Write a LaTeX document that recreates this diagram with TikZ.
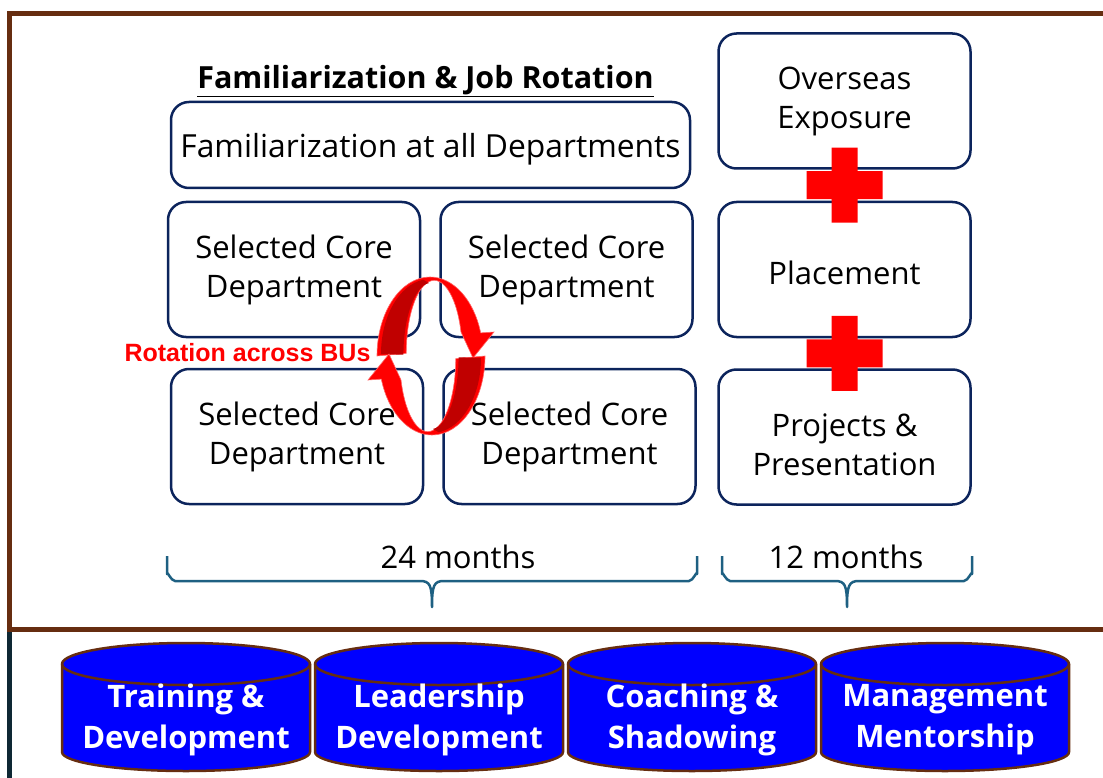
\documentclass[tikz,border=0pt]{standalone}
\usepackage{fontspec}
\setmainfont{Open Sans}
\newfontfamily\arialfont{Liberation Sans}
\usepackage{xcolor}
\definecolor{frame01}{RGB}{102,45,16}
\definecolor{frame02}{RGB}{14,40,52}
\definecolor{navy01}{RGB}{12,36,92}
\definecolor{teal01}{RGB}{30,96,130}
\definecolor{rot01}{RGB}{255,0,0}
\definecolor{rot02}{RGB}{192,0,0}
\definecolor{cyl01}{RGB}{0,0,255}
\usetikzlibrary{calc,positioning}

\begin{document}
\begin{tikzpicture}[x=1pt, y=-1pt,
    box/.style={draw=navy01, line width=2.5pt, rounded corners=18pt, align=center,
                inner sep=0pt, font=\fontsize{31}{39}\selectfont},
    core/.style={box, minimum width=252pt, minimum height=135pt},
    boxtext/.style={align=center, font=\fontsize{31}{39}\selectfont},
    brace/.style={draw=teal01, line width=2.5pt, line join=round},
    cyl/.style={draw=frame01, fill=cyl01, line width=2.5pt},
    cyltext/.style={align=center, text=white, font=\fontsize{31}{41}\selectfont\bfseries}]
    \useasboundingbox (0,0) rectangle (1103,778);
    % 外框:上、左、下三边为棕色,左下延伸为深色
    \draw[frame01, line width=5pt, line join=miter] (1103,13.5) -- (9.5,13.5) -- (9.5,629.5) -- (1103,629.5);
    \draw[frame02, line width=5pt] (9.5,632) -- (9.5,778);
    % 标题
    \node[font=\fontsize{30.5}{34}\selectfont\bfseries] (title) at (425.5,81) {\underline{Familiarization \& Job Rotation}};
    % 左侧:熟悉阶段与核心部门轮岗
    \node[box, minimum width=519pt, minimum height=86pt] (famil) at (430.5,145) {};
    \node[boxtext, font=\fontsize{31.8}{39}\selectfont] (familtxt) at ([yshift=-4pt]famil.center) {Familiarization at all Departments};
    \node[core] (coreA) at (294,269.5) {Selected Core\\Department};
    \node[core] (coreB) at (566.5,269.5) {Selected Core\\Department};
    \node[core] (coreC) at (297,436.5) {Selected Core\\Department};
    \node[core] (coreD) at (569.5,436.5) {Selected Core\\Department};
    % 右侧:海外、派驻、项目
    \node[core] (place) at (844.5,269.5) {};
    \node[boxtext] (placetxt) at ([yshift=-3pt]place.center) {Placement};
    \node[core, above=31pt of place] (abroad) {Overseas\\Exposure};
    \node[core, below=30pt of place] (proj) {};
    \node[boxtext] (projtxt) at ([yshift=-8pt]proj.center) {Projects \&\\Presentation};
    % 两个红色加号
    \coordinate (plus1) at ($(abroad.south)!0.5!(place.north)$);
    \coordinate (plus2) at ($(place.south)!0.5!(proj.north)$);
    \fill[rot01] ($(plus1)+(-13,-37.5)$) rectangle ($(plus1)+(13,37.5)$)
                 ($(plus1)+(-38,-14)$) rectangle ($(plus1)+(38,14)$);
    \fill[rot01] ($(plus2)+(-13,-37.5)$) rectangle ($(plus2)+(13,37.5)$)
                 ($(plus2)+(-38,-14)$) rectangle ($(plus2)+(38,14)$);
    % 轮岗环形箭头(上半支,下半支为其旋转 180 度)
    \begin{scope}
        \fill[rot01, draw=rot01!60!white, line width=0.6pt] (377,356) arc[start angle=180, end angle=343, x radius=53, y radius=79]
            -- (494,332) -- (473,358) -- (461,332)
            arc[start angle=343, end angle=180, x radius=28, y radius=73] -- cycle;
        \fill[rot02] (381,354) arc[start angle=180, end angle=262, x radius=49, y radius=75]
            -- (429,283) arc[start angle=265, end angle=180, x radius=28, y radius=72] -- cycle;
    \end{scope}
    \begin{scope}[rotate around={180:(431,356)}]
        \fill[rot01, draw=rot01!60!white, line width=0.6pt] (377,356) arc[start angle=180, end angle=343, x radius=53, y radius=79]
            -- (494,332) -- (473,358) -- (461,332)
            arc[start angle=343, end angle=180, x radius=28, y radius=73] -- cycle;
        \fill[rot02] (381,354) arc[start angle=180, end angle=262, x radius=49, y radius=75]
            -- (429,283) arc[start angle=265, end angle=180, x radius=28, y radius=72] -- cycle;
    \end{scope}
    \node[anchor=east, text=rot01, font=\arialfont\fontsize{25}{29}\selectfont\bfseries] (rotlbl) at (374,353) {Rotation across BUs};
    % 时间跨度括号
    \draw[brace] (167,556) -- (167,574) to[out=90, in=180] (175,581) -- (420,581)
        .. controls (430,581) and (432,585) .. (432,607)
        .. controls (432,585) and (434,581) .. (444,581) -- (689,581)
        to[out=0, in=90] (697,574) -- (697,556);
    \draw[brace] (722,556) -- (722,574) to[out=90, in=180] (730,581) -- (835,581)
        .. controls (845,581) and (847,585) .. (847,607)
        .. controls (847,585) and (849,581) .. (859,581) -- (964,581)
        to[out=0, in=90] (972,574) -- (972,556);
    \node[font=\fontsize{31}{34}\selectfont] (m24) at (458,557) {24 months};
    \node[font=\fontsize{31}{34}\selectfont] (m12) at (846,557) {12 months};
    % 底部四个支撑圆柱
    \filldraw[cyl] (62,664) -- (62,752) arc[start angle=180, end angle=0, x radius=124, y radius=19]
        -- (310,664) arc[start angle=0, end angle=-180, x radius=124, y radius=21] -- cycle;
    \draw[frame01, line width=2.5pt] (62,664) arc[start angle=180, end angle=0, x radius=124, y radius=21];
    \filldraw[cyl] (315,664) -- (315,752) arc[start angle=180, end angle=0, x radius=124, y radius=19]
        -- (563,664) arc[start angle=0, end angle=-180, x radius=124, y radius=21] -- cycle;
    \draw[frame01, line width=2.5pt] (315,664) arc[start angle=180, end angle=0, x radius=124, y radius=21];
    \filldraw[cyl] (568,664) -- (568,752) arc[start angle=180, end angle=0, x radius=124, y radius=19]
        -- (816,664) arc[start angle=0, end angle=-180, x radius=124, y radius=21] -- cycle;
    \draw[frame01, line width=2.5pt] (568,664) arc[start angle=180, end angle=0, x radius=124, y radius=21];
    \filldraw[cyl] (821,664) -- (821,752) arc[start angle=180, end angle=0, x radius=124, y radius=19]
        -- (1069,664) arc[start angle=0, end angle=-180, x radius=124, y radius=21] -- cycle;
    \draw[frame01, line width=2.5pt] (821,664) arc[start angle=180, end angle=0, x radius=124, y radius=21];
    \node[cyltext] (train) at (186,720) {Training \&\\Development};
    \node[cyltext] (lead) at (439,720) {Leadership\\Development};
    \node[cyltext] (coach) at (692,720) {Coaching \&\\Shadowing};
    \node[cyltext] (mentor) at (945,720) {Management\\Mentorship};
\end{tikzpicture}
\end{document}
